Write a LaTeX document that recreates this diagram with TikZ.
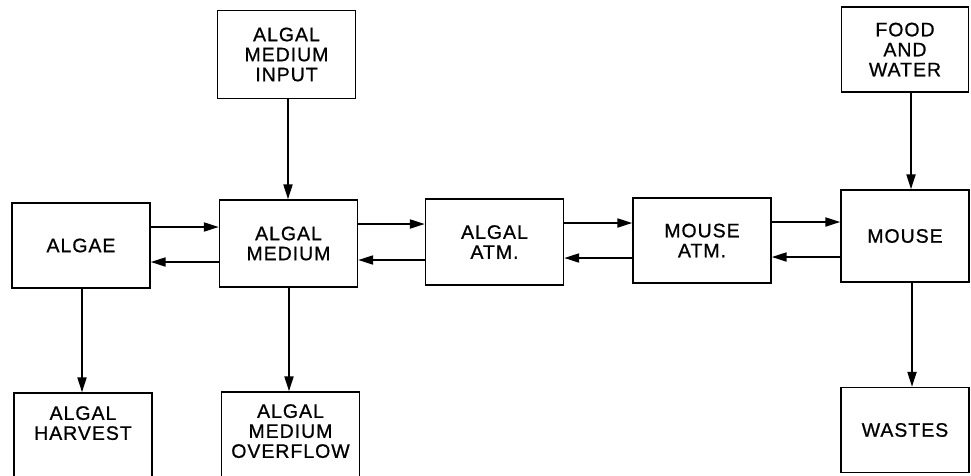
\documentclass[tikz,border=0pt]{standalone}
\usepackage{fontspec}
\setmainfont{Liberation Sans}[LetterSpace=5,FakeBold=0.8]
\usetikzlibrary{arrows.meta}
\begin{document}
\begin{tikzpicture}[x=1pt,y=-1pt,
  box/.style={draw=black,line width=1.4pt,minimum width=138pt,inner sep=0pt,align=center,
    font=\fontsize{19.5}{20}\selectfont},
  lbl/.style={font=\fontsize{19.5}{20}\selectfont,align=center,anchor=north,inner sep=0pt},
  arr/.style={line width=2pt,-{Triangle[length=15pt,width=9pt]}}]
\useasboundingbox (0,0) rectangle (971,475);
\node[box,minimum height=85pt] (algae) at (81,245.5) {ALGAE};
\node[box,minimum height=87pt] (medium) at (288.5,243.5) {ALGAL\\MEDIUM};
\node[box,minimum height=88pt] (input) at (286.5,54.5) {ALGAL\\MEDIUM\\INPUT};
\node[box,minimum height=86pt] (aatm) at (494.5,242) {ALGAL\\ATM.};
\node[box,minimum height=85pt] (matm) at (702,240.5) {MOUSE\\ATM.};
\node[box,minimum height=92pt,minimum width=128pt] (mouse) at (905,236) {MOUSE};
\node[box,minimum height=85pt,minimum width=127pt] (food) at (905,49.5) {FOOD\\AND\\WATER};
\node[box,minimum height=85pt,minimum width=128pt] (wastes) at (905,430) {WASTES};
\node[box,minimum height=100pt] (harvest) at (83,443) {};
\node[box,minimum height=100pt] (overflow) at (290.5,442) {};
\node[lbl] (harvestt) at (83,406) {ALGAL\\HARVEST};
\node[lbl] (overflowt) at (290.5,404) {ALGAL\\MEDIUM\\OVERFLOW};
\draw[arr] (algae.east |- 0,227) -- (medium.west |- 0,227);
\draw[arr] (medium.west |- 0,262) -- (algae.east |- 0,262);
\draw[arr] (medium.east |- 0,224) -- (aatm.west |- 0,224);
\draw[arr] (aatm.west |- 0,260) -- (medium.east |- 0,260);
\draw[arr] (aatm.east |- 0,223) -- (matm.west |- 0,223);
\draw[arr] (matm.west |- 0,258) -- (aatm.east |- 0,258);
\draw[arr] (matm.east |- 0,222) -- (mouse.west |- 0,222);
\draw[arr] (mouse.west |- 0,257) -- (matm.east |- 0,257);
\draw[arr] (input.south -| 288,0) -- (medium.north -| 288,0);
\draw[arr] (medium.south -| 289,0) -- (overflow.north -| 289,0);
\draw[arr] (algae.south -| 82,0) -- (harvest.north -| 82,0);
\draw[arr] (food.south -| 911,0) -- (mouse.north -| 911,0);
\draw[arr] (mouse.south -| 912,0) -- (wastes.north -| 912,0);
\end{tikzpicture}
\end{document}
